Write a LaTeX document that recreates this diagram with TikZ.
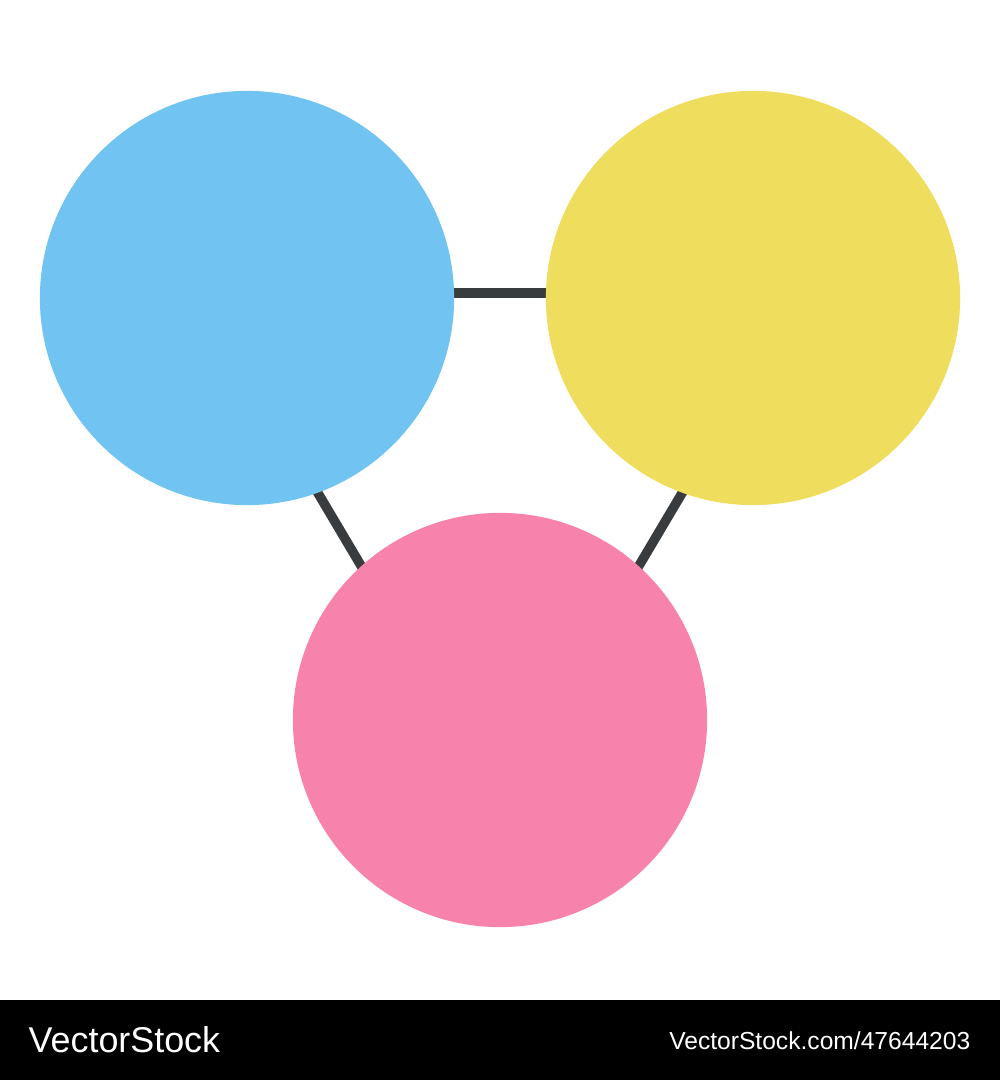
\documentclass[tikz,border=0pt]{standalone}
\usepackage{fontspec}
\setmainfont{Liberation Sans}
\usepackage{tikz}
\usetikzlibrary{backgrounds}

\definecolor{skyblue}{RGB}{113,196,242}
\definecolor{sunyellow}{RGB}{239,221,94}
\definecolor{rosepink}{RGB}{247,130,172}
\definecolor{linkgray}{RGB}{56,60,62}

\tikzset{
  ball/.style={circle, inner sep=0pt, minimum size=4.14cm},
  link/.style={draw=linkgray, line width=0.095cm, shorten <=-0.08cm, shorten >=-0.08cm},
  mark text/.style={text=white, inner sep=0pt, anchor=base west}
}

\begin{document}
\begin{tikzpicture}[x=0.01cm, y=-0.01cm]
\useasboundingbox (0,0) rectangle (1000,1080);
\fill[black] (0,1000) rectangle (1000,1080);

% the three circles
\node[ball, fill=skyblue] (blue) at (247,298) {};
\node[ball, fill=sunyellow] (yellow) at (753,298) {};
\node[ball, fill=rosepink] (pink) at (500,720) {};

% links behind the circles
\begin{scope}[on background layer]
\fill[white] (0,0) rectangle (1000,1000);
\draw[link] ([yshift=0.05cm]blue.east) -- ([yshift=0.05cm]yellow.west);
\draw[link] (blue.-70) -- (pink.132);
\draw[link] (yellow.-110) -- (pink.48);
\end{scope}

% banner
\node[mark text, font=\fontsize{10.2pt}{12pt}\selectfont] (brand) at (28,1052) {VectorStock};
\node[mark text, font=\fontsize{7pt}{8pt}\selectfont, anchor=base east] (stockid) at (971,1049) {VectorStock.com/47644203};
\end{tikzpicture}
\end{document}
